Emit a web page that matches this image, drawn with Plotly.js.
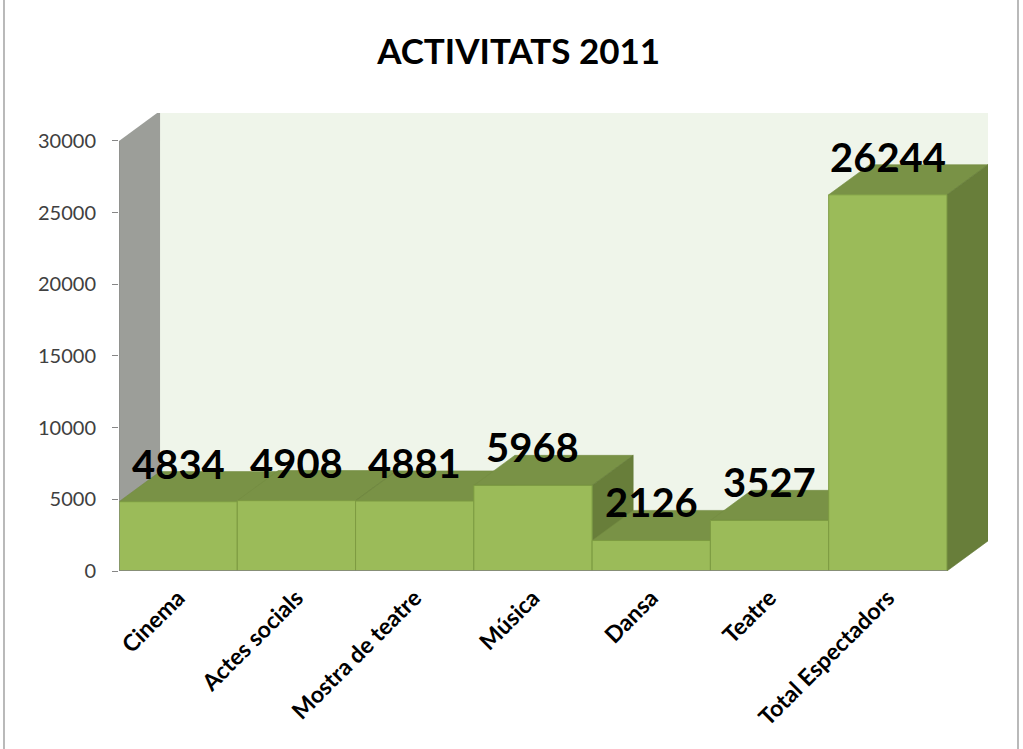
<!DOCTYPE html>
<html>
<head>
<meta charset="utf-8">
<script src="https://cdn.plot.ly/plotly-3.0.1.min.js"></script>
<style>html,body{margin:0;padding:0;background:#fff;}#chart{width:1023px;height:749px;}</style>
</head>
<body>
<div id="chart"></div>
<script>
// ---- data ----
const categories = ["Cinema", "Actes socials", "Mostra de teatre", "Música", "Dansa", "Teatre", "Total Espectadors"];
const values = [4834, 4908, 4881, 5968, 2126, 3527, 26244];
const yTickValues = [0, 5000, 10000, 15000, 20000, 25000, 30000];
const chartTitle = "ACTIVITATS 2011";

// ---- geometry (3D depth in data units) ----
const DX = 0.347;      // depth offset along category axis
const DY = 2100;       // depth offset along value axis
const YMAX = 30000;
const idx = categories.map((c, i) => i);
const n = categories.length;

const colFront = "#9BBB59", colTop = "#799246", colSide = "#687E3A";
const colWall = "#EFF5EA", colLeftWall = "#9C9E99", colAxis = "#868686";

function poly(pts) {
  return "M " + pts.map(p => p[0] + "," + p[1]).join(" L ") + " Z";
}

const shapes = [];
// back wall
shapes.push({type: "path", layer: "below", xref: "x", yref: "y",
  path: poly([[-0.5 + DX, DY], [n - 0.5 + DX, DY], [n - 0.5 + DX, YMAX + DY], [-0.5 + DX, YMAX + DY]]),
  fillcolor: colWall, line: {width: 0}});
// left side wall
shapes.push({type: "path", layer: "below", xref: "x", yref: "y",
  path: poly([[-0.5, 0], [-0.5 + DX, DY], [-0.5 + DX, YMAX + DY], [-0.5, YMAX]]),
  fillcolor: colLeftWall, line: {width: 0}});
// bar top and side faces, left to right
idx.forEach(i => {
  const v = values[i], L = i - 0.5, R = i + 0.5;
  shapes.push({type: "path", layer: "below", xref: "x", yref: "y",
    path: poly([[L, v], [R, v], [R + DX, v + DY], [L + DX, v + DY]]),
    fillcolor: colTop, line: {color: "#738C41", width: 0.6}});
  shapes.push({type: "path", layer: "below", xref: "x", yref: "y",
    path: poly([[R, 0], [R + DX, DY], [R + DX, v + DY], [R, v]]),
    fillcolor: colSide, line: {color: "#637A37", width: 0.6}});
});
// axis lines
shapes.push({type: "line", layer: "above", xref: "x", yref: "y", x0: -0.5, y0: 0, x1: n - 0.5, y1: 0,
  line: {color: colAxis, width: 1.5}});
shapes.push({type: "line", layer: "above", xref: "x", yref: "y", x0: -0.5, y0: 0, x1: -0.5, y1: YMAX,
  line: {color: colAxis, width: 1}});

// outer chart border (left/right edges)
const L_MARGIN = 119, T_MARGIN = 113, PLOT_W = 869, PLOT_H = 458;
const px2x = px => (px - L_MARGIN) / PLOT_W;
const py2y = py => (T_MARGIN + PLOT_H - py) / PLOT_H;
shapes.push({type: "rect", layer: "above", xref: "paper", yref: "paper",
  x0: px2x(4), x1: px2x(1018), y0: py2y(760), y1: py2y(-5),
  line: {color: "#8C8C8C", width: 1.2}, fillcolor: "rgba(0,0,0,0)"});

const annotations = idx.map(i => ({
  x: i, y: values[i] + DY, xref: "x", yref: "y",
  text: String(values[i]), showarrow: false, yanchor: "middle", yshift: 8,
  font: {family: "Lato, 'Open Sans', sans-serif", size: 40, color: "#000", weight: "bold"}
}));

const trace = {
  type: "bar", x: idx, y: values, width: 1,
  marker: {color: colFront, line: {color: "#7D9B42", width: 1}},
  hoverinfo: "skip"
};

const layout = {
  width: 1023, height: 749,
  margin: {l: L_MARGIN, r: 1023 - L_MARGIN - PLOT_W, t: T_MARGIN, b: 749 - T_MARGIN - PLOT_H, pad: 0},
  paper_bgcolor: "#fff", plot_bgcolor: "#fff",
  showlegend: false,
  bargap: 0,
  title: {text: "<b>" + chartTitle + "</b>", xref: "container", yref: "container",
    x: 0.507, y: 1 - 52 / 749, xanchor: "center", yanchor: "middle",
    font: {family: "Lato, 'Open Sans', sans-serif", size: 35, color: "#000"}},
  xaxis: {range: [-0.5, n - 0.5 + DX], tickvals: idx, ticktext: categories, tickangle: -45,
    showgrid: false, zeroline: false, showline: false, ticks: "", ticklabelstandoff: 8,
    tickfont: {family: "Lato, 'Open Sans', sans-serif", size: 23, color: "#000", weight: "bold"},
    fixedrange: true},
  yaxis: {range: [0, YMAX + DY - 150], tickvals: yTickValues, ticktext: yTickValues.map(String),
    showgrid: false, zeroline: false, showline: false, ticks: "outside", ticklen: 6,
    tickcolor: colAxis, ticklabelstandoff: 12,
    tickfont: {family: "Lato, 'Open Sans', sans-serif", size: 20, color: "#404040"},
    fixedrange: true},
  shapes: shapes,
  annotations: annotations
};

Plotly.newPlot("chart", [trace], layout, {displayModeBar: false, staticPlot: true});
</script>
</body>
</html>
